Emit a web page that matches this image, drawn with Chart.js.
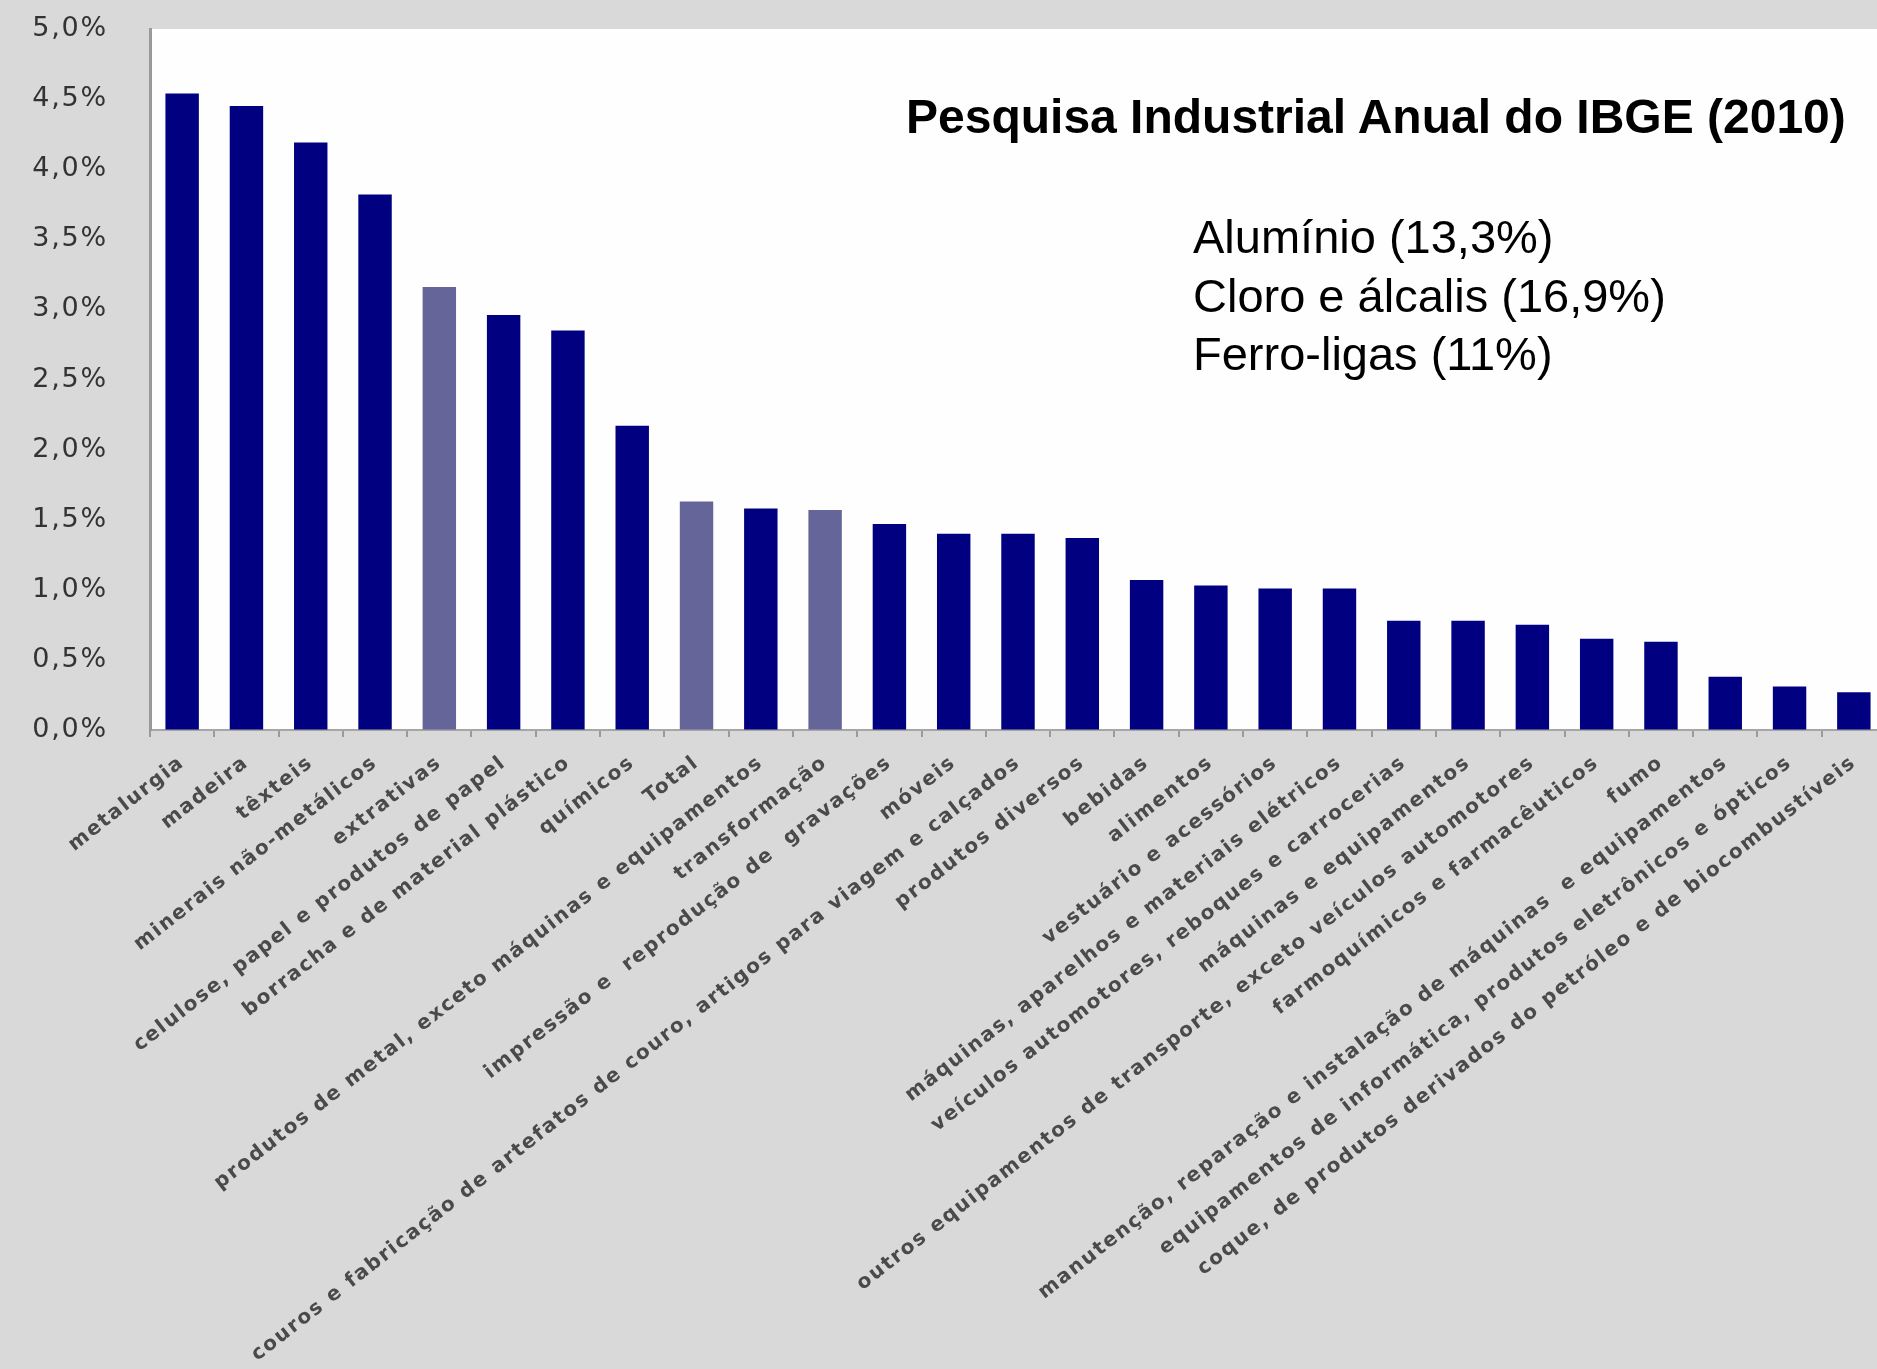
<!DOCTYPE html>
<html lang="pt-BR">
<head>
<meta charset="utf-8">
<title>Pesquisa Industrial Anual do IBGE (2010)</title>
<script src="https://cdn.jsdelivr.net/npm/chart.js@4.4.1/dist/chart.umd.min.js"></script>
<style>
  html, body { margin: 0; padding: 0; }
  body {
    width: 1877px;
    height: 1369px;
    overflow: hidden;
    position: relative;
    background: #d9d9d9;
    font-family: 'Liberation Sans', Arial, sans-serif;
  }
  #chart { position: absolute; left: 0; top: 0; }
  .note { position: absolute; color: #000; white-space: nowrap; }
  #source { left: 906px; top: 93px; font-size: 48px; line-height: 48px; font-weight: bold; }
  #inputs { left: 1193px; top: 208px; font-size: 47px; line-height: 58.5px; }
</style>
</head>
<body>
<canvas id="chart" width="1890" height="1369"></canvas>
<div class="note" id="source">Pesquisa Industrial Anual do IBGE (2010)</div>
<div class="note" id="inputs">Alumínio (13,3%)<br>Cloro e álcalis (16,9%)<br>Ferro-ligas (11%)</div>
<script>
// setores da indústria, em ordem decrescente
const sectors = [
  'metalurgia',
  'madeira',
  'têxteis',
  'minerais não-metálicos',
  'extrativas',
  'celulose, papel e produtos de papel',
  'borracha e de material plástico',
  'químicos',
  'Total',
  'produtos de metal, exceto máquinas e equipamentos',
  'transformação',
  'impressão e  reprodução de  gravações',
  'móveis',
  'couros e fabricação de artefatos de couro, artigos para viagem e calçados',
  'produtos diversos',
  'bebidas',
  'alimentos',
  'vestuário e acessórios',
  'máquinas, aparelhos e materiais elétricos',
  'veículos automotores, reboques e carrocerias',
  'máquinas e equipamentos',
  'outros equipamentos de transporte, exceto veículos automotores',
  'farmoquímicos e farmacêuticos',
  'fumo',
  'manutenção, reparação e instalação de máquinas  e equipamentos',
  'equipamentos de informática, produtos eletrônicos e ópticos',
  'coque, de produtos derivados do petróleo e de biocombustíveis'
];

// participação (%) de cada setor
const shares = [
  4.54, 4.45, 4.19, 3.82, 3.16, 2.96, 2.85, 2.17, 1.63, 1.58,
  1.57, 1.47, 1.40, 1.40, 1.37, 1.07, 1.03, 1.01, 1.01, 0.78,
  0.78, 0.75, 0.65, 0.63, 0.38, 0.31, 0.27
];

// agregados em cor mais clara
const aggregates = ['extrativas', 'Total', 'transformação'];

const yTickLabels = ['0,0%', '0,5%', '1,0%', '1,5%', '2,0%', '2,5%',
  '3,0%', '3,5%', '4,0%', '4,5%', '5,0%'];

const NAVY = '#000080';
const SLATE = '#65659a';

// fundo branco só na área do gráfico
const plotBg = {
  id: 'plotBg',
  beforeDraw(chart) {
    const { ctx, chartArea: a } = chart;
    ctx.save();
    ctx.fillStyle = '#fefefe';
    ctx.fillRect(a.left, a.top, a.right - a.left, a.bottom - a.top);
    ctx.restore();
  }
};

// rótulos largos, como no original
const wideText = {
  id: 'wideText',
  beforeLayout(chart) { chart.ctx.letterSpacing = '1.8px'; },
  beforeDraw(chart) { chart.ctx.letterSpacing = '1.8px'; }
};

new Chart(document.getElementById('chart'), {
  type: 'bar',
  data: {
    labels: sectors,
    datasets: [{
      data: shares,
      backgroundColor: sectors.map((s) => (aggregates.includes(s) ? SLATE : NAVY)),
      borderWidth: 0,
      barPercentage: 0.52,
      categoryPercentage: 1
    }]
  },
  options: {
    responsive: false,
    animation: false,
    devicePixelRatio: 1,
    layout: { padding: { top: 29, right: 4, left: 0, bottom: 0 } },
    plugins: {
      legend: { display: false },
      tooltip: { enabled: false }
    },
    scales: {
      x: {
        offset: true,
        grid: {
          display: true,
          offset: true,
          drawOnChartArea: false,
          drawTicks: true,
          tickLength: 7,
          color: '#9a9a9a',
          lineWidth: 2
        },
        border: { display: true, color: '#a6a6a6', width: 2 },
        ticks: {
          autoSkip: false,
          minRotation: 38,
          maxRotation: 38,
          padding: 14,
          color: '#4a4a4a',
          font: { family: 'DejaVu Sans', size: 20, weight: 'bold' }
        },
        afterFit: (s) => { s.height = 1369 - 730; }
      },
      y: {
        min: 0,
        max: 5,
        // marcas invisíveis só para afastar os rótulos do eixo
        grid: {
          display: true,
          drawOnChartArea: false,
          drawTicks: true,
          tickLength: 42,
          tickColor: 'rgba(0,0,0,0)'
        },
        border: { display: true, color: '#999999', width: 3 },
        ticks: {
          stepSize: 0.5,
          padding: 0,
          color: '#333333',
          font: { family: 'DejaVu Sans', size: 27 },
          callback: (v, i) => yTickLabels[i]
        },
        afterFit: (s) => { s.width = 150; }
      }
    }
  },
  plugins: [plotBg, wideText]
});
</script>
</body>
</html>
